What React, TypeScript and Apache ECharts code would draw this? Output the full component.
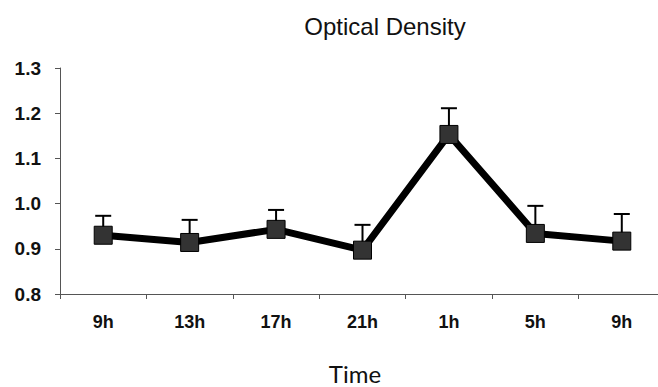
import React, { useEffect, useRef } from "react";
import * as echarts from "echarts";

const categories = ["9h", "13h", "17h", "21h", "1h", "5h", "9h"];
const meanValues = [0.93, 0.914, 0.943, 0.897, 1.153, 0.934, 0.917];
const upperErrors = [0.973, 0.964, 0.986, 0.953, 1.211, 0.995, 0.977];
const yTicks = [0.8, 0.9, 1.0, 1.1, 1.2, 1.3];

export default function App() {
  const ref = useRef<HTMLDivElement>(null);
  useEffect(() => {
    if (!ref.current) return;
    const chart = echarts.init(ref.current, undefined, { renderer: "svg" });
    chart.setOption({
      animation: false,
      backgroundColor: "#ffffff",
      title: {
        text: "Optical Density",
        left: 380,
        top: 9,
        textAlign: "center",
        textStyle: {
          fontFamily: "Liberation Sans, Arial, sans-serif",
          fontWeight: "normal",
          fontSize: 24,
          color: "#111",
        },
      },
      grid: { left: 60, top: 68, bottom: 93, right: -7, containLabel: false, outerBoundsMode: "none" },
      xAxis: {
        type: "category",
        data: categories,
        boundaryGap: true,
        name: "Time",
        nameLocation: "middle",
        nameGap: 67,
        nameTextStyle: {
          fontFamily: "Lato, Open Sans, sans-serif",
          fontSize: 24,
          color: "#111",
          padding: [0, 15, 0, 0],
        },
        axisLine: { lineStyle: { color: "#555", width: 1 } },
        axisTick: { show: true, length: 5, lineStyle: { color: "#555" } },
        axisLabel: {
          margin: 19,
          fontFamily: "Liberation Sans, Arial, sans-serif",
          fontWeight: "bold",
          fontSize: 18,
          color: "#111",
        },
        splitLine: { show: false },
      },
      yAxis: {
        type: "value",
        min: yTicks[0],
        max: yTicks[yTicks.length - 1],
        interval: 0.1,
        axisLine: { show: true, lineStyle: { color: "#555", width: 1 } },
        axisTick: { show: true, length: 5, lineStyle: { color: "#555" } },
        splitLine: { show: false },
        axisLabel: {
          margin: 19,
          fontFamily: "Liberation Sans, Arial, sans-serif",
          fontWeight: "bold",
          fontSize: 19,
          color: "#111",
          formatter: (v: number) => v.toFixed(1),
        },
      },
      series: [
        {
          type: "custom",
          z: 1,
          data: categories.map((_, i) => [i, meanValues[i], upperErrors[i]]),
          renderItem: (params: any, api: any) => {
            const x = api.value(0);
            const base = api.coord([x, api.value(1)]);
            const top = api.coord([x, api.value(2)]);
            const half = 8;
            return {
              type: "group",
              children: [
                {
                  type: "line",
                  shape: { x1: base[0], y1: base[1], x2: top[0], y2: top[1] },
                  style: { stroke: "#000", lineWidth: 2 },
                },
                {
                  type: "line",
                  shape: { x1: top[0] - half, y1: top[1], x2: top[0] + half, y2: top[1] },
                  style: { stroke: "#000", lineWidth: 2 },
                },
              ],
            };
          },
        },
        {
          type: "line",
          z: 3,
          data: meanValues,
          symbol: "rect",
          symbolSize: 18,
          lineStyle: { color: "#000", width: 7 },
          itemStyle: { color: "#333", borderColor: "#000", borderWidth: 1 },
        },
      ],
    });
    return () => chart.dispose();
  }, []);
  return <div ref={ref} style={{ width: 658, height: 387, position: "absolute", left: 0, top: 0 }} />;
}
